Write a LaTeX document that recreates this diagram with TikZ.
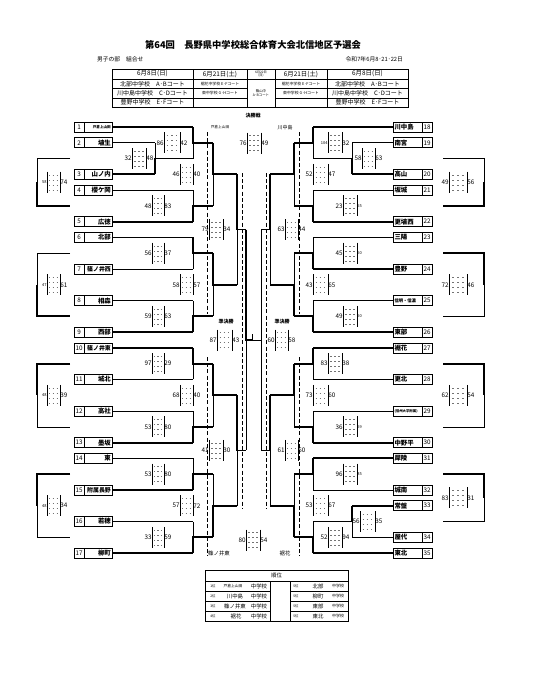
\documentclass[tikz,border=0pt]{standalone}
\usepackage{fontspec}
\setmainfont{Noto Sans CJK JP}
\newcommand\fN{\fontsize{6.3}{6.5}\selectfont}
\newcommand\fS{\fontsize{4}{4.2}\selectfont}
\newcommand\fT{\fontsize{6.4}{7}\selectfont\bfseries}
\newcommand\fTs{\fontsize{5.9}{6}\selectfont\bfseries}
\tikzset{
  tn/.style={line width=0.6pt},
  tk/.style={line width=1.8pt},
  bar/.style={line width=0.9pt},
  mk/.style={line width=0.35pt, black!55},
  dsh/.style={line width=0.6pt, dash pattern=on 4pt off 2.2pt},
  box/.style={line width=0.8pt},
  lbl/.style={inner sep=0pt, outer sep=0pt},
}
% bracket: x, ytop, ybot, xout, winner (0 top / 1 bottom)
\newcommand\brk[5]{%
  \pgfmathsetmacro\brkmid{(#2+#3)/2}%
  \ifnum#5=0
    \draw[tn] (#1,\brkmid) -- (#1,#3);
    \draw[tk] (#1,#2) -- (#1,\brkmid) -- (#4,\brkmid);
  \else
    \draw[tn] (#1,\brkmid) -- (#1,#2);
    \draw[tk] (#1,#3) -- (#1,\brkmid) -- (#4,\brkmid);
  \fi}
% score box: name, x1, x2, y, left, right, leftfont, rightfont
\newcommand\scorebox[8]{%
  \pgfmathsetmacro\sbA{#2+0.22*(#3-#2)}%
  \pgfmathsetmacro\sbB{#2+0.5*(#3-#2)}%
  \pgfmathsetmacro\sbC{#2+0.78*(#3-#2)}%
  \draw[bar] (#2,#4-10.5) -- (#2,#4+10.5);
  \draw[bar] (#3,#4-10.5) -- (#3,#4+10.5);
  \foreach \r in {-7.5,-2.5,2.5,7.5}{%
    \draw[mk] (\sbA-0.6,#4+\r) -- (\sbA+0.6,#4+\r);
    \draw[mk] (\sbB-0.8,#4+\r) -- (\sbB+0.8,#4+\r);
    \draw[mk] (\sbC-0.6,#4+\r) -- (\sbC+0.6,#4+\r);}
  \node[lbl,font=#7,anchor=east] (#1a) at (#2-0.4,#4) {#5};
  \node[lbl,font=#8,anchor=west] (#1b) at (#3+0.4,#4) {#6};}
\newcommand\sbx[6]{\scorebox{#1}{#2}{#3}{#4}{#5}{#6}{\fN}{\fN}}
% teams
\newcommand\lteam[4]{%
  \node[draw,box,minimum width=38pt,minimum height=10pt,inner sep=0pt] (#1) at (93,#2) {};
  \draw[tn] (84,#2-5) -- (84,#2+5);
  \node[lbl,font=\fN] (#1n) at (79,#2) {#3};
  \node[lbl,anchor=east] (#1l) at (110.8,#2) {#4};}
\newcommand\rteam[4]{%
  \node[draw,box,minimum width=39pt,minimum height=10pt,inner sep=0pt] (#1) at (412.5,#2) {};
  \draw[tn] (422,#2-5) -- (422,#2+5);
  \node[lbl,font=\fN] (#1n) at (427,#2) {#3};
  \node[lbl,anchor=west] (#1l) at (394.5,#2) {#4};}

\begin{document}
\begin{tikzpicture}[x=1pt,y=-1pt]
\useasboundingbox (0,0) rectangle (534,683);
\fill[white] (0,0) rectangle (534,683);

% ---------- header ----------
\node[lbl,font=\fontsize{9.3}{10}\selectfont\bfseries] (title) at (253,45) {第64回　長野県中学校総合体育大会北信地区予選会};
\node[lbl,font=\fontsize{5.8}{6}\selectfont,anchor=west] (sub) at (97,59) {男子の部　組合せ};
\node[lbl,font=\fontsize{5.8}{6}\selectfont,anchor=east] (date) at (403,59) {令和7年6月8･21･22日};

\draw[line width=0.7pt] (112,69) rectangle (408,107);
\foreach \x in {193,247,275,327} \draw[tn] (\x,69) -- (\x,107);
\draw[tn] (112,79) -- (408,79);
\draw[tn] (112,88.5) -- (247,88.5);
\draw[tn] (275,88.5) -- (408,88.5);
\draw[tn] (112,98) -- (247,98);
\draw[tn] (275,98) -- (408,98);
\node[lbl,font=\fontsize{6.4}{7}\selectfont] (h1) at (152.5,74) {6月8日(日)};
\node[lbl,font=\fontsize{6.4}{7}\selectfont] (h2) at (220,74) {6月21日(土)};
\node[lbl,font=\fontsize{3.2}{3.6}\selectfont,align=center] (h3) at (261,74) {6月22日\\(日)};
\node[lbl,font=\fontsize{6.4}{7}\selectfont] (h4) at (301,74) {6月21日(土)};
\node[lbl,font=\fontsize{6.4}{7}\selectfont] (h5) at (367.5,74) {6月8日(日)};
\node[lbl,font=\fontsize{6}{7}\selectfont] (a1) at (152.5,83.8) {北部中学校　A･Bコート};
\node[lbl,font=\fontsize{6}{7}\selectfont] (a2) at (152.5,93.3) {川中島中学校　C･Dコート};
\node[lbl,font=\fontsize{6}{7}\selectfont] (a3) at (152.5,102.6) {豊野中学校　E･Fコート};
\node[lbl,font=\fontsize{3.9}{4}\selectfont] (b1) at (220,83.8) {裾花中学校 E･Fコート};
\node[lbl,font=\fontsize{3.9}{4}\selectfont] (b2) at (220,93.3) {東中学校 G･Hコート};
\node[lbl,font=\fontsize{3.4}{4.4}\selectfont,align=center] (c1) at (261,93) {篠山中\\A･Bコート};
\node[lbl,font=\fontsize{3.9}{4}\selectfont] (d1) at (301,83.8) {裾花中学校 E･Fコート};
\node[lbl,font=\fontsize{3.9}{4}\selectfont] (d2) at (301,93.3) {東中学校 G･Hコート};
\node[lbl,font=\fontsize{6}{7}\selectfont] (e1) at (367.5,83.8) {北部中学校　A･Bコート};
\node[lbl,font=\fontsize{6}{7}\selectfont] (e2) at (367.5,93.3) {川中島中学校　C･Dコート};
\node[lbl,font=\fontsize{6}{7}\selectfont] (e3) at (367.5,102.6) {豊野中学校　E･Fコート};

% ---------- teams ----------
\lteam{t1}{127}{1}{\fontsize{3.6}{4}\selectfont\bfseries 戸倉上山田}
\lteam{t2}{142.78}{2}{\fT 埴生}
\lteam{t3}{174.34}{3}{\fT 山ノ内}
\lteam{t4}{190.12}{4}{\fT 櫻ケ岡}
\lteam{t5}{221.68}{5}{\fT 広徳}
\lteam{t6}{237.46}{6}{\fT 北部}
\lteam{t7}{269.02}{7}{\fTs 篠ノ井西}
\lteam{t8}{300.58}{8}{\fT 相森}
\lteam{t9}{332.14}{9}{\fT 西部}
\lteam{t10}{347.92}{10}{\fTs 篠ノ井東}
\lteam{t11}{379.48}{11}{\fT 城北}
\lteam{t12}{411.04}{12}{\fT 高社}
\lteam{t13}{442.6}{13}{\fT 墨坂}
\lteam{t14}{458.38}{14}{\fT 東}
\lteam{t15}{489.94}{15}{\fTs 附属長野}
\lteam{t16}{521.5}{16}{\fT 若穂}
\lteam{t17}{553.06}{17}{\fT 柳町}

\rteam{t18}{127}{18}{\fT 川中島}
\rteam{t19}{142.78}{19}{\fT 南宮}
\rteam{t20}{174.34}{20}{\fT 高山}
\rteam{t21}{190.12}{21}{\fT 坂城}
\rteam{t22}{221.68}{22}{\fT 更埴西}
\rteam{t23}{237.46}{23}{\fT 三陽}
\rteam{t24}{269.02}{24}{\fT 豊野}
\rteam{t25}{300.58}{25}{\fontsize{4.3}{5}\selectfont\bfseries 信明・信濃}
\rteam{t26}{332.14}{26}{\fT 東部}
\rteam{t27}{347.92}{27}{\fT 裾花}
\rteam{t28}{379.48}{28}{\fT 更北}
\rteam{t29}{411.04}{29}{\fontsize{3.4}{4}\selectfont\bfseries (信州大学附属)}
\rteam{t30}{442.6}{30}{\fT 中野平}
\rteam{t31}{458.38}{31}{\fT 犀陵}
\rteam{t32}{489.94}{32}{\fT 城南}
\rteam{t33}{505.72}{33}{\fT 常盤}
\rteam{t34}{537.28}{34}{\fT 屋代}
\rteam{t35}{553.06}{35}{\fT 東北}

% ---------- team lines ----------
\draw[tk] (t1.east) -- (193,127);
\draw[tn] (t2.east) -- (155,142.78);
\draw[tk] (t3.east) -- (155,174.34);
\draw[tn] (t4.east) -- (193,190.12);
\draw[tk] (t5.east) -- (193,221.68);
\draw[tk] (t6.east) -- (193,237.46);
\draw[tn] (t7.east) -- (193,269.02);
\draw[tn] (t8.east) -- (193,300.58);
\draw[tk] (t9.east) -- (193,332.14);
\draw[tk] (t10.east) -- (193,347.92);
\draw[tn] (t11.east) -- (193,379.48);
\draw[tn] (t12.east) -- (193,411.04);
\draw[tk] (t13.east) -- (193,442.6);
\draw[tn] (t14.east) -- (193,458.38);
\draw[tk] (t15.east) -- (193,489.94);
\draw[tn] (t16.east) -- (193,521.5);
\draw[tk] (t17.east) -- (193,553.06);

\draw[tk] (t18.west) -- (313,127);
\draw[tn] (t19.west) -- (352,142.78);
\draw[tk] (t20.west) -- (352,174.34);
\draw[tn] (t21.west) -- (313,190.12);
\draw[tk] (t22.west) -- (313,221.68);
\draw[tn] (t23.west) -- (313,237.46);
\draw[tk] (t24.west) -- (313,269.02);
\draw[tn] (t25.west) -- (313,300.58);
\draw[tk] (t26.west) -- (313,332.14);
\draw[tk] (t27.west) -- (313,347.92);
\draw[tn] (t28.west) -- (313,379.48);
\draw[tn] (t29.west) -- (313,411.04);
\draw[tk] (t30.west) -- (313,442.6);
\draw[tk] (t31.west) -- (313,458.38);
\draw[tn] (t32.west) -- (313,489.94);
\draw[tk] (t33.west) -- (352,505.72);
\draw[tn] (t34.west) -- (352,537.28);
\draw[tk] (t35.west) -- (313,553.06);

% ---------- left brackets ----------
\brk{155}{142.78}{174.34}{193}{1}
\brk{193}{127}{158.56}{213}{0}
\brk{193}{190.12}{221.68}{213}{1}
\brk{213}{142.78}{205.9}{237}{0}
\brk{193}{237.46}{269.02}{213}{0}
\brk{193}{300.58}{332.14}{213}{1}
\brk{213}{253.24}{316.36}{237}{0}
\brk{237}{174.34}{284.8}{246}{0}
\brk{193}{347.92}{379.48}{213}{0}
\brk{193}{411.04}{442.6}{213}{1}
\brk{213}{363.7}{426.82}{237}{0}
\brk{193}{458.38}{489.94}{213}{1}
\brk{193}{521.5}{553.06}{213}{1}
\brk{213}{474.16}{537.28}{237}{1}
\brk{237}{395.26}{505.72}{246}{0}
\brk{246}{229.57}{450.49}{252.5}{0}

% ---------- right brackets ----------
\brk{352}{142.78}{174.34}{313}{1}
\brk{313}{127}{158.56}{294}{0}
\brk{313}{190.12}{221.68}{294}{1}
\brk{294}{142.78}{205.9}{270}{0}
\brk{313}{237.46}{269.02}{294}{1}
\brk{313}{300.58}{332.14}{294}{1}
\brk{294}{253.24}{316.36}{270}{1}
\brk{270}{174.34}{284.8}{261}{0}
\brk{313}{347.92}{379.48}{294}{0}
\brk{313}{411.04}{442.6}{294}{1}
\brk{294}{363.7}{426.82}{270}{0}
\brk{313}{458.38}{489.94}{294}{0}
\brk{352}{505.72}{537.28}{313}{0}
\brk{313}{521.5}{553.06}{294}{1}
\brk{294}{474.16}{537.28}{270}{1}
\brk{270}{395.26}{505.72}{261}{0}
\draw[tn] (261,229.57) -- (261,450.49);
\draw[tn] (261,340.03) -- (252.5,340.03);
\draw[tk] (252.5,340.03) -- (252.5,333.5);

% ---------- outer brackets ----------
\draw[tn] (70,158.56) -- (37,158.56) -- (37,182.23);
\draw[tk] (37,182.23) -- (37,205.9) -- (70,205.9);
\draw[tn] (70,253.24) -- (37,253.24) -- (37,284.8);
\draw[tk] (37,284.8) -- (37,316.36) -- (70,316.36);
\draw[tk] (70,363.7) -- (37,363.7) -- (37,395.26);
\draw[tn] (37,395.26) -- (37,426.82) -- (70,426.82);
\draw[tk] (70,474.16) -- (37,474.16) -- (37,505.72);
\draw[tn] (37,505.72) -- (37,537.28) -- (70,537.28);

\draw[tn] (443,158.56) -- (484,158.56) -- (484,182.23);
\draw[tk] (484,182.23) -- (484,205.9) -- (443,205.9);
\draw[tk] (443,253.24) -- (484,253.24) -- (484,284.8);
\draw[tn] (484,284.8) -- (484,316.36) -- (443,316.36);
\draw[tk] (443,363.7) -- (484,363.7) -- (484,395.26);
\draw[tn] (484,395.26) -- (484,426.82) -- (443,426.82);
\draw[tk] (443,474.16) -- (484,474.16) -- (484,497.83);
\draw[tn] (484,497.83) -- (484,521.5) -- (443,521.5);

% ---------- dashed lines ----------
\draw[dsh] (207,132) -- (207,314);
\draw[dsh] (207,357) -- (207,556);
\draw[dsh] (299,132) -- (299,314);
\draw[dsh] (299,357) -- (299,556);
\draw[dsh] (242,173) -- (242,508);
\draw[dsh] (266,173) -- (266,508);

% ---------- labels ----------
\node[lbl,font=\fontsize{5}{6}\selectfont\bfseries] (kessho) at (253,115.5) {決勝戦};
\node[lbl,font=\fontsize{3.7}{4}\selectfont] (fin1) at (220,127.5) {戸倉上山田};
\node[lbl,font=\fontsize{5}{6}\selectfont] (fin2) at (285,127.5) {川中島};
\node[lbl,font=\fontsize{5}{6}\selectfont\bfseries] (jk1) at (226,322) {準決勝};
\node[lbl,font=\fontsize{5}{6}\selectfont\bfseries] (jk2) at (282,322) {準決勝};
\node[lbl,font=\fontsize{5.4}{6}\selectfont] (th1) at (219,553.5) {篠ノ井東};
\node[lbl,font=\fontsize{5.4}{6}\selectfont] (th2) at (285,553.5) {裾花};

% ---------- scores left ----------
\sbx{s1}{132}{146}{158.56}{32}{48}
\sbx{s2}{164}{180}{142.78}{86}{42}
\sbx{s3}{152}{164}{205.9}{48}{83}
\sbx{s4}{180}{193}{174.34}{46}{40}
\sbx{s5}{152}{164}{253.24}{56}{37}
\sbx{s6}{152}{164}{316.36}{59}{63}
\sbx{s7}{180}{193}{284.8}{58}{57}
\sbx{s8}{209}{223}{229.57}{79}{34}
\sbx{s9}{152}{164}{363.7}{97}{29}
\sbx{s10}{152}{164}{426.82}{53}{80}
\sbx{s11}{180}{193}{395.26}{68}{40}
\sbx{s12}{152}{164}{474.16}{53}{80}
\sbx{s13}{152}{164}{537.28}{33}{59}
\sbx{s14}{180}{193}{505.72}{57}{72}
\sbx{s15}{209}{223}{450.49}{41}{30}
\sbx{s16}{217}{232}{340}{87}{43}
\sbx{s17}{247}{261}{143}{76}{49}
\sbx{s18}{246}{260}{540}{80}{54}
\scorebox{o1}{47}{60}{182.23}{58}{74}{\fS}{\fN}
\scorebox{o2}{47}{60}{284.8}{47}{61}{\fS}{\fN}
\scorebox{o3}{47}{60}{395.26}{48}{39}{\fS}{\fN}
\scorebox{o4}{47}{60}{505.72}{48}{34}{\fS}{\fN}

% ---------- scores right ----------
\sbx{r1}{362}{375}{158.56}{58}{63}
\scorebox{r2}{328}{342}{142.78}{104}{32}{\fS}{\fN}
\scorebox{r3}{343}{357}{205.9}{23}{55}{\fN}{\fS}
\sbx{r4}{313}{328}{174.34}{52}{47}
\scorebox{r5}{343}{357}{253.24}{45}{50}{\fN}{\fS}
\scorebox{r6}{343}{357}{316.36}{49}{50}{\fN}{\fS}
\sbx{r7}{313}{328}{284.8}{43}{65}
\sbx{r8}{285}{298}{229.57}{63}{44}
\sbx{r9}{328}{342}{363.7}{83}{38}
\scorebox{r10}{343}{357}{426.82}{36}{59}{\fN}{\fS}
\sbx{r11}{313}{328}{395.26}{73}{60}
\scorebox{r12}{343}{357}{474.16}{96}{35}{\fN}{\fS}
\sbx{r13}{360}{375}{521.5}{56}{35}
\sbx{r14}{328}{342}{537.28}{52}{94}
\sbx{r15}{313}{328}{505.72}{53}{67}
\sbx{r16}{285}{298}{450.49}{61}{60}
\sbx{r17}{275}{288}{340}{60}{58}
\sbx{p1}{449}{467}{182.23}{49}{56}
\sbx{p2}{449}{467}{284.8}{72}{46}
\sbx{p3}{449}{467}{395.26}{62}{54}
\sbx{p4}{449}{467}{497.83}{83}{31}

% ---------- ranking table ----------
\draw[line width=0.7pt] (205,570) rectangle (348,621);
\draw[tn] (205,581) -- (348,581);
\draw[tn] (270,581) -- (270,621);
\draw[tn] (290,581) -- (290,621);
\foreach \yy in {591,601,611}{\draw[tn] (205,\yy) -- (270,\yy); \draw[tn] (290,\yy) -- (348,\yy);}
\node[lbl,font=\fontsize{5.4}{6}\selectfont] (jun) at (276.5,575.7) {順位};
\node[lbl,font=\fontsize{3.4}{4}\selectfont] (k1) at (213,586) {1位};
\node[lbl,font=\fontsize{3.8}{4}\selectfont] (n1) at (233,586) {戸倉上山田};
\node[lbl,font=\fontsize{5.4}{6}\selectfont] (c1s) at (259,586) {中学校};
\node[lbl,font=\fontsize{3.4}{4}\selectfont] (k2) at (213,596) {2位};
\node[lbl,font=\fontsize{5.4}{6}\selectfont] (n2) at (235,596) {川中島};
\node[lbl,font=\fontsize{5.4}{6}\selectfont] (c2s) at (259,596) {中学校};
\node[lbl,font=\fontsize{3.4}{4}\selectfont] (k3) at (213,606) {3位};
\node[lbl,font=\fontsize{5.4}{6}\selectfont] (n3) at (235,606) {篠ノ井東};
\node[lbl,font=\fontsize{5.4}{6}\selectfont] (c3s) at (259,606) {中学校};
\node[lbl,font=\fontsize{3.4}{4}\selectfont] (k4) at (213,616) {4位};
\node[lbl,font=\fontsize{5.4}{6}\selectfont] (n4) at (236,616) {裾花};
\node[lbl,font=\fontsize{5.4}{6}\selectfont] (c4s) at (259,616) {中学校};
\node[lbl,font=\fontsize{3.4}{4}\selectfont] (k5) at (296,586) {5位};
\node[lbl,font=\fontsize{5.4}{6}\selectfont] (n5) at (318,586) {北部};
\node[lbl,font=\fontsize{4}{5}\selectfont] (c5s) at (338,586) {中学校};
\node[lbl,font=\fontsize{3.4}{4}\selectfont] (k6) at (296,596) {5位};
\node[lbl,font=\fontsize{5.4}{6}\selectfont] (n6) at (318,596) {柳町};
\node[lbl,font=\fontsize{4}{5}\selectfont] (c6s) at (338,596) {中学校};
\node[lbl,font=\fontsize{3.4}{4}\selectfont] (k7) at (296,606) {5位};
\node[lbl,font=\fontsize{5.4}{6}\selectfont] (n7) at (318,606) {東部};
\node[lbl,font=\fontsize{4}{5}\selectfont] (c7s) at (338,606) {中学校};
\node[lbl,font=\fontsize{3.4}{4}\selectfont] (k8) at (296,616) {5位};
\node[lbl,font=\fontsize{5.4}{6}\selectfont] (n8) at (318,616) {東北};
\node[lbl,font=\fontsize{4}{5}\selectfont] (c8s) at (338,616) {中学校};
\end{tikzpicture}
\end{document}
